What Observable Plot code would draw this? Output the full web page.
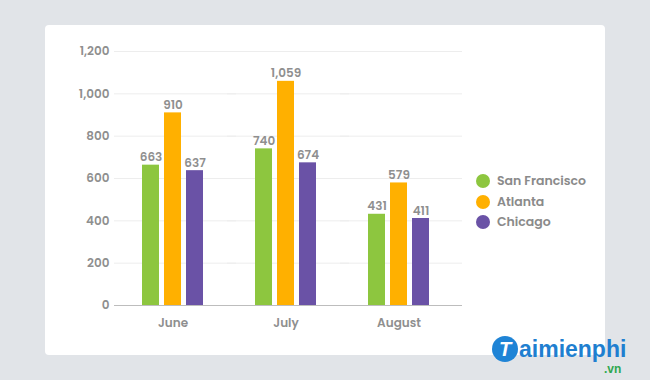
<!DOCTYPE html>
<html>
<head>
<meta charset="utf-8">
<script src="https://cdn.jsdelivr.net/npm/d3@7"></script>
<script src="https://cdn.jsdelivr.net/npm/@observablehq/plot@0.6"></script>
<style>
  html, body { margin:0; padding:0; }
  body { width:650px; height:380px; background:#e1e4e8; position:relative; overflow:hidden;
         font-family: Poppins, "Open Sans", "Noto Sans", sans-serif; }
  #card { position:absolute; left:45px; top:25px; width:560px; height:330px; background:#fff; border-radius:4px; }
  #chart { position:absolute; left:0; top:0; }
  #chart svg text { font-weight:600; }
  #legend { position:absolute; left:476px; top:171px; font-size:12.5px; font-weight:600; color:#8a8a8a; }
  #legend .row { display:flex; align-items:center; height:20.5px; }
  #legend .sw { width:14px; height:14px; border-radius:50%; margin-right:7px; }
  #wm { position:absolute; left:492px; top:336px; font-family:"Liberation Sans", Arial, sans-serif; }
  #wm .main { font-size:23px; font-weight:bold; color:#1f7fd0; display:flex; align-items:center; line-height:26px; }
  #wm .t { width:26px; height:26px; border-radius:50%; background:#1f84d6; color:#fff; font-style:italic; display:flex; align-items:center; justify-content:center; font-size:20px; margin-right:1px; }
  #wm .vn { position:absolute; left:112px; top:26px; font-size:12px; font-weight:bold; color:#2fa84f; line-height:14px; }
</style>
</head>
<body>
<div id="card"></div>
<div id="chart"></div>
<div id="legend"></div>
<div id="wm"><div class="main"><span class="t">T</span>aimienphi</div><div class="vn">.vn</div></div>
<script>
const months = ["June", "July", "August"];
const cities = ["San Francisco", "Atlanta", "Chicago"];
const sanFrancisco = [663, 740, 431];
const atlanta = [910, 1059, 579];
const chicago = [637, 674, 411];
const colors = ["#8dc63f", "#ffb000", "#6a52a6"];
const yTicks = [0, 200, 400, 600, 800, 1000, 1200];

const series = [sanFrancisco, atlanta, chicago];
const data = months.flatMap((m, i) => cities.map((c, j) => ({month: m, city: c, value: series[j][i]})));
const fmt = d3.format(",");

const chart = Plot.plot({
  width: 650, height: 380,
  marginLeft: 115, marginRight: 195, marginTop: 51, marginBottom: 75,
  style: {background: "transparent", fontSize: "12px", color: "#8f8f8f", fontFamily: 'Poppins, "Open Sans", "Noto Sans", sans-serif'},
  fx: {domain: months, padding: 0, label: null, axis: "bottom", tickSize: 0, tickPadding: 13},
  x: {domain: cities, axis: null, paddingInner: 0.22, paddingOuter: 1.13},
  y: {domain: [0, 1200], ticks: yTicks, tickFormat: d => fmt(d), tickSize: 0, tickPadding: 7, label: null},
  color: {domain: cities, range: colors},
  marks: [
    Plot.gridY(yTicks, {stroke: "#ededed", strokeOpacity: 1, insetLeft: -2, insetRight: -7}),
    Plot.barY(data, {fx: "month", x: "city", y: "value", fill: "city"}),
    Plot.text(data, {fx: "month", x: "city", y: "value", text: d => fmt(d.value), lineAnchor: "bottom", dy: -4, fill: "#8f8f8f", fontSize: 12}),
    Plot.ruleY([0], {stroke: "#bdbdbd", insetLeft: -2, insetRight: -7})
  ]
});
document.getElementById("chart").appendChild(chart);

const legend = document.getElementById("legend");
cities.forEach((c, i) => {
  const row = document.createElement("div");
  row.className = "row";
  row.innerHTML = `<span class="sw" style="background:${colors[i]}"></span><span>${c}</span>`;
  legend.appendChild(row);
});
</script>
</body>
</html>
